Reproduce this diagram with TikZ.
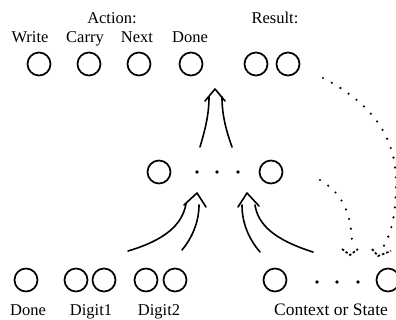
\documentclass[tikz,border=0pt]{standalone}
\usepackage{fontspec}
\setmainfont{Liberation Serif}

\begin{document}
\begin{tikzpicture}[x=1pt, y=-1pt,
    unit/.style={draw, circle, line width=1.7pt, minimum size=23pt, inner sep=0pt},
    lbl/.style={anchor=base, inner sep=0pt, font=\fontsize{16.5}{19}\selectfont},
    flow/.style={line width=1.6pt, line cap=round, line join=round},
    copyline/.style={line width=2.4pt, line cap=round, dash pattern=on 0pt off 10pt},
    copyhead/.style={line width=1.7pt, dash pattern=on 2.5pt off 2pt}]
    \useasboundingbox (0,0) rectangle (396,320);
    \def \ytop {64}
    \def \ymid {172}
    \def \ybot {280}

    % output layer: action and result units
    \node[lbl] (action) at (112,24) {Action:};
    \node[lbl] (result) at (275,24) {Result:};
    \foreach \nm/\x/\lx/\txt in {write/39/30/Write, carry/89/85/Carry, next/139/137/Next, done/191/190/Done}
    {
      \node[unit] (\nm) at (\x,\ytop) {};
      \node[lbl] (\nm-lbl) at (\lx,43) {\txt};
    }
    \node[unit] (res1) at (256,\ytop) {};
    \node[unit] (res2) at (288,\ytop) {};

    % hidden layer
    \node[unit] (hid1) at (159,\ymid) {};
    \node[unit] (hidn) at (271,\ymid) {};
    \foreach \x in {197,217,238}
      \fill (\x,\ymid) circle (1.8pt);

    % input layer
    \node[unit] (inp-done) at (26,\ybot) {};
    \node[unit] (dig1a) at (76,\ybot) {};
    \node[unit] (dig1b) at (104,\ybot) {};
    \node[unit] (dig2a) at (146,\ybot) {};
    \node[unit] (dig2b) at (175,\ybot) {};
    \node[unit] (ctx1) at (275,\ybot) {};
    \node[unit] (ctxn) at (388,\ybot) {};
    \foreach \x in {317,337,358}
      \fill (\x,282) circle (1.8pt);
    \node[lbl] (done-lbl) at (28,315) {Done};
    \node[lbl] (dig1-lbl) at (91,315) {Digit1};
    \node[lbl] (dig2-lbl) at (159,315) {Digit2};
    \node[lbl, font=\fontsize{17.5}{19}\selectfont] (ctx-lbl) at (331,315) {Context or State};

    % hidden -> output
    \coordinate (uptip) at (215,89);
    \coordinate (upl) at (200,147);
    \coordinate (upr) at (232,147);
    \draw[flow] (upl) .. controls (205,130) and (209,115) .. (209,97);
    \draw[flow] (upr) .. controls (226,130) and (222,115) .. (222,97);
    \draw[flow] ([shift={(-10,12)}]uptip) -- (uptip) -- ([shift={(10,12)}]uptip);

    % input -> hidden
    \coordinate (ltip) at (197,193);
    \coordinate (lout) at (128,251);
    \coordinate (lin) at (182,250);
    \draw[flow] (lout) .. controls (165,240) and (182,225) .. (186,204);
    \draw[flow] (lin) .. controls (192,238) and (199,222) .. (199,205);
    \draw[flow] ([shift={(-13,12)}]ltip) -- (ltip) -- ([shift={(9,14)}]ltip);

    \coordinate (rtip) at (247,193);
    \coordinate (rin) at (260,252);
    \coordinate (rout) at (313,252);
    \draw[flow] (rin) .. controls (248,238) and (242,222) .. (242,205);
    \draw[flow] (rout) .. controls (275,240) and (258,225) .. (255,205);
    \draw[flow] ([shift={(-9,14)}]rtip) -- (rtip) -- ([shift={(12,13)}]rtip);

    % copies back into the context units
    \coordinate (c1tip) at (378,256);
    \draw[copyline] (323,78) .. controls (375,105) and (397,140) .. (396,185)
      .. controls (396,215) and (391,235) .. (382,249);
    \draw[copyhead] ([shift={(-6,-7)}]c1tip) -- (c1tip) -- ([shift={(13,-5)}]c1tip);
    \coordinate (c2tip) at (350,255);
    \draw[copyline] (320,180) .. controls (340,192) and (352,210) .. (352,246);
    \draw[copyhead] ([shift={(-8,-6)}]c2tip) -- (c2tip) -- ([shift={(8,-6)}]c2tip);
\end{tikzpicture}
\end{document}
